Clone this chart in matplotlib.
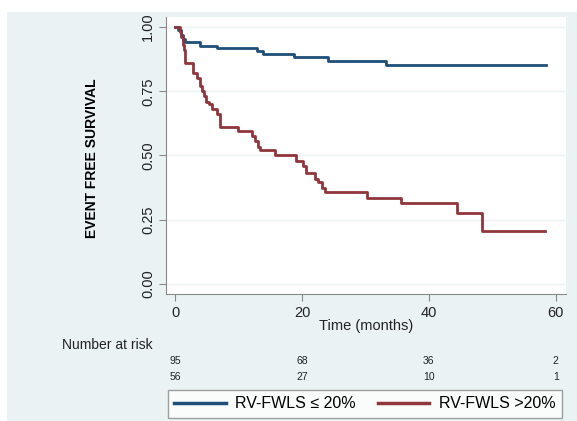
import matplotlib
matplotlib.use("Agg")
import matplotlib.pyplot as plt
from matplotlib.patches import Rectangle
from matplotlib.transforms import blended_transform_factory

plt.rcParams['font.family'] = ['Liberation Sans', 'DejaVu Sans']

# Kaplan-Meier steps
blue_t = [0, 0.5, 0.9, 1.2, 1.6, 4.0, 6.6, 12.9, 13.9, 18.7, 24.1, 33.3, 58.4]
blue_s = [1.0, 0.99, 0.97, 0.955, 0.94, 0.927, 0.917, 0.907, 0.895, 0.882, 0.868, 0.853, 0.853]

red_t = [0, 0.8, 1.0, 1.2, 1.4, 1.6, 2.9, 3.5, 3.9, 4.2, 4.5, 4.9, 5.3, 5.8, 6.6, 7.1,
         10.0, 12.1, 12.6, 13.0, 13.4, 15.7, 19.1, 20.2, 20.7, 22.0, 22.6, 23.1, 23.6,
         30.2, 35.6, 44.4, 48.3, 58.3]
red_s = [1.0, 0.98, 0.96, 0.93, 0.91, 0.86, 0.82, 0.80, 0.77, 0.75, 0.73, 0.71, 0.70, 0.68,
         0.66, 0.61, 0.595, 0.575, 0.555, 0.535, 0.52, 0.50, 0.48, 0.46, 0.43, 0.41, 0.395,
         0.375, 0.357, 0.336, 0.316, 0.275, 0.205, 0.205]

risk_times = [0, 20, 40, 60]
risk_blue = [95, 68, 36, 2]
risk_red = [56, 27, 10, 1]

labels = ["RV-FWLS \u2264 20%", "RV-FWLS >20%"]
blue = "#1f4e79"
red = "#90353b"
panel = "#eaf2f3"

W, H = 577, 421
fig = plt.figure(figsize=(W / 100, H / 100), dpi=100)
# light bluish background panel (white strip at top and left)
fig.patches.append(Rectangle((7 / W, 0), 1, (H - 12) / H, transform=fig.transFigure,
                             facecolor=panel, edgecolor="none", zorder=-10))

ax = fig.add_axes([166 / W, 127 / H, 400 / W, 277 / H])
ax.set_facecolor("white")
l1, = ax.step(blue_t, blue_s, where="post", color=blue, lw=2.0)
l2, = ax.step(red_t, red_s, where="post", color=red, lw=2.0)

ax.set_xlim(-1.42, 61.6)
ax.set_ylim(-0.039, 1.039)
ax.set_xticks([0, 20, 40, 60])
ax.set_yticks([0, 0.25, 0.5, 0.75, 1.0])
ax.set_yticklabels(["0.00", "0.25", "0.50", "0.75", "1.00"], rotation=90, va="center")
ax.tick_params(axis="both", direction="out", length=5, color="#888888", labelsize=10.5,
               labelcolor="#222222")
ax.tick_params(axis="y", pad=3)
ax.grid(axis="y", color=panel, lw=1)
ax.set_axisbelow(True)
for side in ["top", "right"]:
    ax.spines[side].set_visible(False)
for side in ["left", "bottom"]:
    ax.spines[side].set_color("#888888")

fig.text(92 / W, 1 - 158 / H, "EVENT FREE SURVIVAL", rotation=90, weight="bold",
         fontsize=10, ha="center", va="center")
fig.text(366 / W, 1 - 326 / H, "Time (months)", fontsize=10.5, ha="center", va="center",
         color="#222222")
fig.text(107 / W, 1 - 345 / H, "Number at risk", fontsize=10, ha="center", va="center",
         color="#222222")

tr = blended_transform_factory(ax.transData, fig.transFigure)
for t, a, b in zip(risk_times, risk_blue, risk_red):
    ax.text(t, 1 - 361 / H, str(a), transform=tr, fontsize=7.5, ha="center", va="center",
            color="#222222", clip_on=False)
    ax.text(t, 1 - 377 / H, str(b), transform=tr, fontsize=7.5, ha="center", va="center",
            color="#222222", clip_on=False)

leg = fig.legend([l1, l2], labels, ncol=2, loc="center", bbox_to_anchor=(365 / W, 1 - 404 / H),
                 fontsize=11.5, frameon=True, fancybox=False, edgecolor="#888888",
                 handlelength=3.2, handletextpad=0.6, columnspacing=1.4, borderpad=0.4)
leg.get_frame().set_linewidth(1)
for line in leg.get_lines():
    line.set_linewidth(2.5)

fig.savefig("out.png", dpi=100)
